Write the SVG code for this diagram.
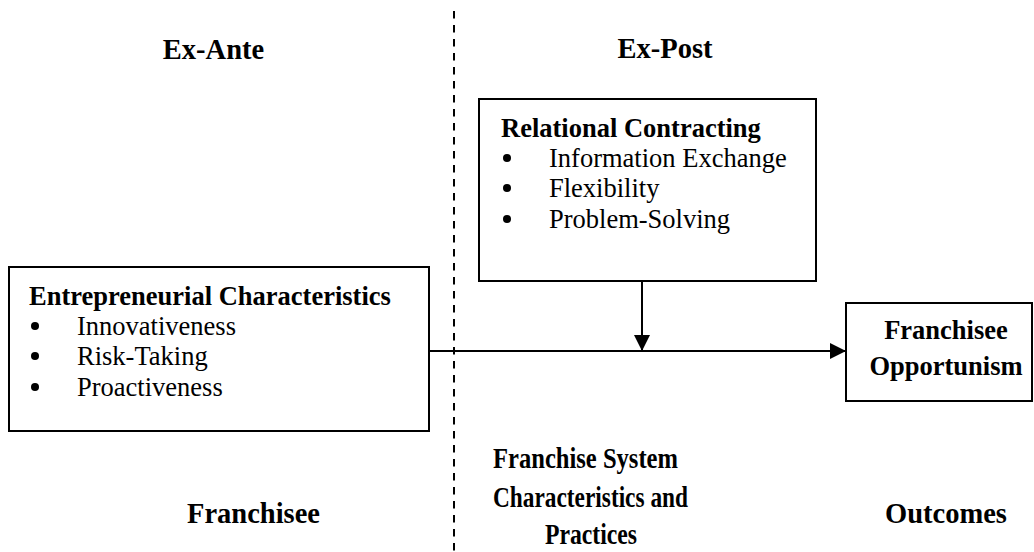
<svg xmlns="http://www.w3.org/2000/svg" width="1034" height="552" viewBox="0 0 1034 552">
<style>
.lbl{font-family:"Liberation Serif","Times New Roman",serif;font-weight:bold;font-size:28.5px;fill:#000;text-anchor:middle}
.hd{font-family:"Liberation Serif","Times New Roman",serif;font-weight:bold;font-size:26.5px;fill:#000}
.it{font-family:"Liberation Serif","Times New Roman",serif;font-size:26.5px;fill:#000}
.box{fill:#fff;stroke:#000;stroke-width:2}
.ln{stroke:#000;stroke-width:2;fill:none}
</style>
<defs>
<marker id="ah" viewBox="0 0 16 16" refX="16" refY="8" markerWidth="16" markerHeight="16" markerUnits="userSpaceOnUse" orient="auto">
<path d="M0,0 L16,8 L0,16 Z" fill="#000"/>
</marker>
</defs>
<rect width="1034" height="552" fill="#fff"/>
<line x1="454" y1="11" x2="454" y2="552" stroke="#000" stroke-width="2" stroke-dasharray="7.5,6.5"/>
<g id="labels">
<text class="lbl" x="213.5" y="59">Ex-Ante</text>
<text class="lbl" x="665" y="58">Ex-Post</text>
<text class="lbl" x="253.5" y="523">Franchisee</text>
<text class="lbl" x="946" y="523">Outcomes</text>
<text class="lbl" x="585.5" y="468" textLength="185" lengthAdjust="spacingAndGlyphs">Franchise System</text>
<text class="lbl" x="590.5" y="507" textLength="195" lengthAdjust="spacingAndGlyphs">Characteristics and</text>
<text class="lbl" x="591" y="544" textLength="92" lengthAdjust="spacingAndGlyphs">Practices</text>
</g>
<g id="entrepreneurial">
<rect class="box" x="9" y="267" width="420" height="164"/>
<text class="hd" x="29" y="305">Entrepreneurial Characteristics</text>
<circle cx="35" cy="326" r="4"/>
<text class="it" x="77" y="335">Innovativeness</text>
<circle cx="35" cy="356" r="4"/>
<text class="it" x="77" y="365">Risk-Taking</text>
<circle cx="35" cy="387" r="4"/>
<text class="it" x="77" y="396">Proactiveness</text>
</g>
<g id="relational">
<rect class="box" x="479" y="99" width="337" height="182"/>
<text class="hd" x="501" y="137">Relational Contracting</text>
<circle cx="507" cy="158" r="4"/>
<text class="it" x="549" y="167">Information Exchange</text>
<circle cx="507" cy="188" r="4"/>
<text class="it" x="549" y="197">Flexibility</text>
<circle cx="507" cy="219" r="4"/>
<text class="it" x="549" y="228">Problem-Solving</text>
</g>
<g id="opportunism">
<rect class="box" x="846" y="303" width="186" height="98"/>
<text class="hd" x="946" y="339" text-anchor="middle">Franchisee</text>
<text class="hd" x="946" y="375" text-anchor="middle">Opportunism</text>
</g>
<g id="connectors">
<line class="ln" x1="429" y1="351" x2="846" y2="351" marker-end="url(#ah)"/>
<line class="ln" x1="642" y1="281" x2="642" y2="351" marker-end="url(#ah)"/>
</g>
</svg>
